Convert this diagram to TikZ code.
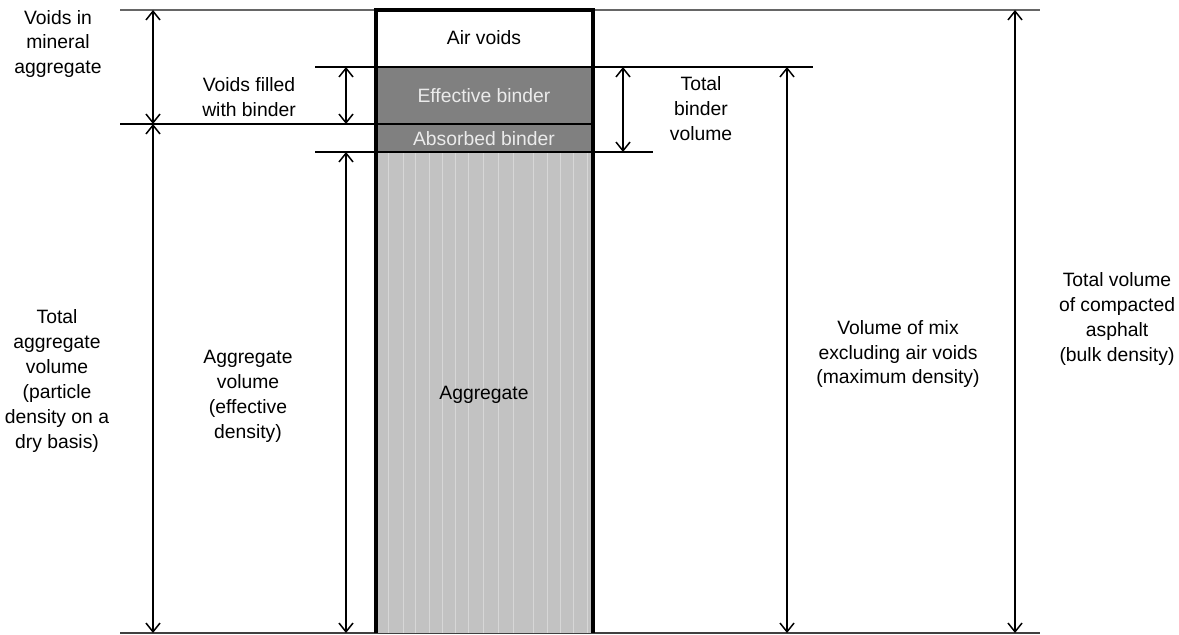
\documentclass[tikz,border=0pt]{standalone}
\usepackage{fontspec}
\setmainfont{Liberation Sans}
\usepackage{tikz}
\usetikzlibrary{arrows.meta}
\usepackage{xcolor}
\definecolor{bindergray}{HTML}{808080}
\definecolor{agggray}{HTML}{C2C2C2}

\begin{document}
\begin{tikzpicture}[x=0.02cm,y=-0.02cm,
    dim/.style={{Straight Barb[length=5pt,width=8pt]}-{Straight Barb[length=5pt,width=8pt]}, line width=0.85pt},
    rule/.style={line width=0.85pt},
    lbl/.style={align=center, inner sep=0pt, font=\fontsize{11}{14.2}\selectfont},
    inlbl/.style={lbl, text=white!92!black}
]
    \useasboundingbox (0,0) rectangle (1179,635);

    % Levels and arrow positions
    \coordinate (lTop) at (0,10);
    \coordinate (lAir) at (0,67);
    \coordinate (lEff) at (0,124);
    \coordinate (lAbs) at (0,152);
    \coordinate (lBot) at (0,633);
    \coordinate (xVma) at (153,0);
    \coordinate (xVfb) at (346,0);
    \coordinate (xTbv) at (623,0);
    \coordinate (xMix) at (787,0);
    \coordinate (xTot) at (1015,0);

    % Horizontal rules
    \draw[black!60, line width=0.7pt] (120,10) -- (1040,10);
    \draw[black!75, line width=0.7pt] (120,633) -- (1040,633);
    \draw[rule] (315,67) -- (376,67);
    \draw[rule] (593,67) -- (813,67);
    \draw[rule] (120,124) -- (376,124);
    \draw[rule] (315,152) -- (376,152);
    \draw[rule] (593,152) -- (653,152);

    % Column of phases
    \fill[agggray] (376,152) rectangle (593,633);
    \foreach \x in {388,403,415,429,442,455,468,483,498,513,533,547,560,573,587}
        \draw[white, line width=0.4pt, opacity=0.35] (\x,152) -- (\x,633);
    \fill[bindergray] (376,67) rectangle (593,152);
    \draw[line width=1.1pt] (376,67) -- (593,67);
    \draw[line width=1.1pt] (376,124) -- (593,124);
    \draw[line width=1pt] (376,152) -- (593,152);
    \draw[line width=1.8pt] (376,633) -- (376,10) -- (593,10) -- (593,633);

    % Labels inside the column
    \node[lbl] (air) at (484,38) {Air voids};
    \node[inlbl] (eff) at (484,96) {Effective binder};
    \node[inlbl] (abs) at (484,139) {Absorbed binder};
    \node[lbl] (agg) at (484,395) {Aggregate};

    % Labels outside
    \node[lbl] (vma) at (58,44) {Voids in\\mineral\\aggregate};
    \node[lbl] (vfb) at (249,97) {Voids filled\\with binder};
    \node[lbl] (tbv) at (701,109) {Total\\binder\\volume};
    \node[lbl] (tav) at (57,381) {Total\\aggregate\\volume\\(particle\\density on a\\dry basis)};
    \node[lbl] (eav) at (248,396) {Aggregate\\volume\\(effective\\density)};
    \node[lbl] (mix) at (898,354) {Volume of mix\\excluding air voids\\(maximum density)};
    \node[lbl] (tot) at (1117,319) {Total volume\\of compacted\\asphalt\\(bulk density)};

    % Dimension arrows
    \draw[dim] (xVma |- lTop) -- (xVma |- lEff);
    \draw[dim] (xVma |- lEff) -- (xVma |- lBot);
    \draw[dim] (xVfb |- lAir) -- (xVfb |- lEff);
    \draw[dim] (xVfb |- lAbs) -- (xVfb |- lBot);
    \draw[dim] (xTbv |- lAir) -- (xTbv |- lAbs);
    \draw[dim] (xMix |- lAir) -- (xMix |- lBot);
    \draw[dim] (xTot |- lTop) -- (xTot |- lBot);
\end{tikzpicture}
\end{document}
